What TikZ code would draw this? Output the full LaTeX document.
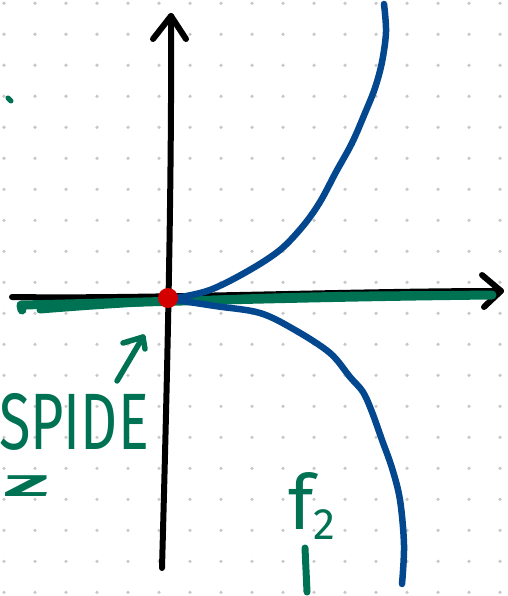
\documentclass[tikz,border=0pt]{standalone}
\usepackage{fontspec}
\setmainfont{Fira Sans}
\definecolor{pgreen}{HTML}{007254}
\definecolor{pblue}{HTML}{03478F}
\definecolor{pred}{HTML}{D40000}
\definecolor{pdot}{HTML}{C8C8C8}
\begin{document}
\begin{tikzpicture}[x=1pt,y=-1pt,
  axis/.style={black,line width=6pt,line cap=round,line join=round},
  curve/.style={pblue,line width=6.5pt,line cap=round,line join=round},
  pen/.style={pgreen,line width=7pt,line cap=round,line join=round},
  lbl/.style={pgreen,inner sep=0pt,text depth=0pt}]
\useasboundingbox (0,0) rectangle (507,596);
\fill[white] (0,0) rectangle (507,596);
% dotted grid
\foreach \i in {0,...,16}{\foreach \j in {0,...,19}{
  \fill[pdot] ({4+31*\i},{3.3+31*\j}) circle (1.8pt);}}
% axes
\coordinate (ybot) at (162,568);
\coordinate (ytop) at (171,16);
\coordinate (xl) at (12,297);
\coordinate (xr) at (501,291);
\draw[axis] (ybot) .. controls (166,420) and (172,200) .. (ytop);
\draw[axis] (153,39) -- (ytop) -- (186,39);
\draw[axis] (xl) .. controls (150,299) and (350,291) .. (xr);
\draw[axis] (482,275) -- (xr) -- (484,307);
% green axis line
\draw[pen,line width=9pt] (22,310) -- (21,305) .. controls (120,303) and (300,297) .. (492,295);
\draw[pen,line width=7pt] (40,310) .. controls (150,301) and (300,293) .. (480,295);
% blue curves
\draw[curve] plot[smooth,tension=0.55] coordinates {(176,298) (210,290) (248,271) (280,250) (303,226) (320,202) (336,172) (352,143) (365,113) (375,88) (382,62) (386,32) (384,4)};
\draw[curve] plot[smooth,tension=0.55] coordinates {(176,300) (215,306) (260,313) (295,330) (330,353) (350,377) (363,392) (372,412) (382,440) (392,468) (400,500) (404,545) (402,584)};
% cusp point
\node[circle,fill=pred,minimum size=20pt,inner sep=0pt] (cusp) at (168,298) {};
% annotation arrow
\coordinate (atail) at (117,381);
\coordinate (ahead) at (143,337);
\draw[pen,line width=5.5pt] (atail) -- (ahead);
\draw[pen,line width=5.5pt] (123,343) -- (ahead) -- (145,349);
% labels
\node[lbl,anchor=south east,font=\fontsize{80}{80}\selectfont,xscale=0.72] (word) at (149,450) {SPIDE};
\node[lbl,anchor=south east,font=\bfseries\fontsize{30}{30}\selectfont,xscale=2.8,text height=21pt] (zed) at (50,497) {Z};
\node[lbl,anchor=south west,font=\fontsize{76}{76}\selectfont] (fn) at (288,530) {f\raisebox{-0.25ex}{\fontsize{44}{44}\selectfont 2}};
\draw[pen] (305,548) -- (307,592);
\draw[pen,line width=5pt] (8,98) -- (11,101);
\end{tikzpicture}
\end{document}
